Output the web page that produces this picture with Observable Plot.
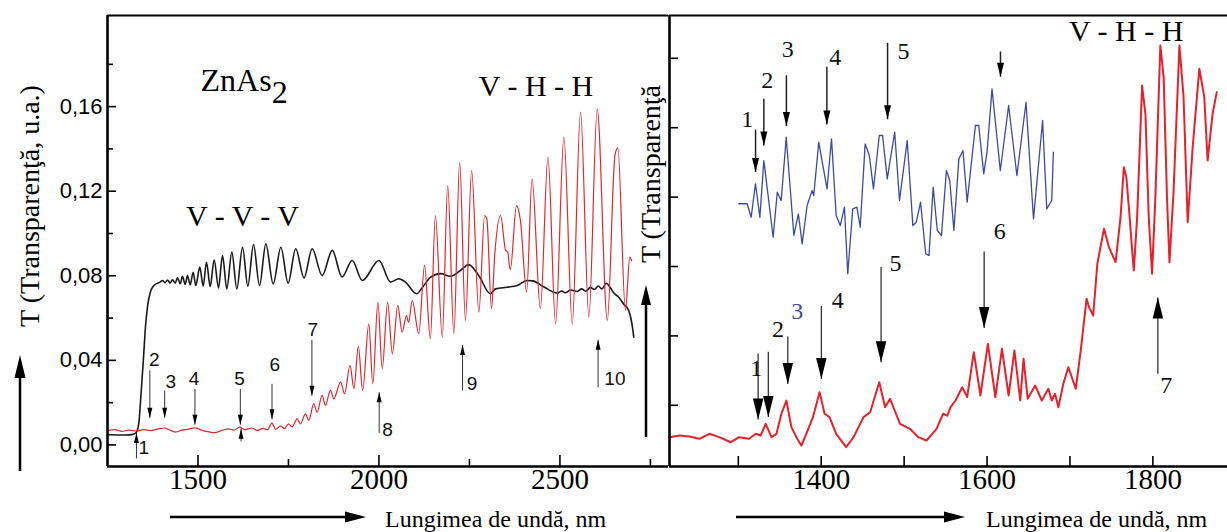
<!DOCTYPE html>
<html><head><meta charset="utf-8">
<script src="https://cdn.jsdelivr.net/npm/d3@7"></script>
<script src="https://cdn.jsdelivr.net/npm/@observablehq/plot@0.6"></script>
<style>
html,body{margin:0;padding:0;background:#fff;}
#wrap{position:relative;width:1227px;height:532px;overflow:hidden;background:#fff;}
</style></head><body><div id="wrap"></div>
<script>
// ---------- LEFT PANEL DATA (nm, T u.a.) ----------
const blackNm = [1250,1300,1320,1330,1337,1343,1349,1355,1361,1368,1377,1388,1395,1402,1409,1416,1423,1429.6,1437,1443.4,1450.8,1457.2,1464.6,1471,1478.4,1486.7,1494,1505,1514.3,1523.5,1533.7,1544.7,1556.7,1567.7,1579.7,1593.5,1607.3,1623,1637.7,1653.4,1670,1687.5,1707.7,1729,1749,1770,1793,1815.5,1843,1871,1898,1926,1954,2000,2032,2055,2073,2104,2120,2142,2170,2197,2225,2248,2276,2308,2322,2354,2382,2409,2425,2455,2492,2505,2515,2530,2548,2560,2572,2584,2595,2606,2616,2628,2640,2649,2662,2676,2690,2699,2704];
const blackT  = [.0048,.0047,.0050,.0060,.0110,.0250,.0400,.0560,.0660,.0720,.0752,.0765,.0770,.0778,.0767,.0780,.0766,.0781,.0765,.0790,.0762,.0797,.0759,.0801,.0757,.0817,.0754,.0841,.0751,.0864,.0749,.0876,.0743,.0896,.0738,.0912,.0738,.0935,.0751,.0948,.0754,.0951,.0762,.0935,.0765,.0928,.0790,.0928,.0801,.0920,.0794,.0872,.0778,.0872,.0770,.0786,.0770,.0715,.0745,.0792,.0810,.0798,.0825,.0853,.0800,.0715,.0738,.0746,.0754,.0778,.0776,.0748,.0718,.0728,.0720,.0733,.0726,.0738,.0727,.0745,.0735,.0752,.0738,.0765,.0742,.0718,.0700,.0667,.0636,.0573,.0510];
const redNm = [1250,1270,1290,1310,1330,1350,1370,1390,1408,1420,1438,1455,1470,1492,1510,1530,1546,1565,1585,1600,1615,1630,1648,1664,1680,1692,1704,1715,1728,1739,1750,1760,1768,1774,1783,1797,1806,1820,1829,1843,1852,1866,1875,1894,1905,1920,1931,1943,1955,1972,1983,1997,2009,2024,2037,2052,2064,2076,2082,2092,2110,2126,2142,2156,2175,2190,2207,2223,2239,2256,2276,2292,2298,2311,2320,2336,2350,2356,2360,2363,2380,2391,2408,2423,2446,2467,2488,2511,2534,2557,2580,2603,2631,2652,2660,2681,2693,2698];
const redT  = [.0068,.0072,.0064,.0070,.0066,.0072,.0068,.0076,.0080,.0072,.0061,.0070,.0074,.0081,.0070,.0062,.0058,.0068,.0076,.0070,.0084,.0072,.0080,.0069,.0078,.0072,.0103,.0074,.0090,.0077,.0100,.0085,.0108,.0124,.0100,.0147,.0116,.0195,.0155,.0234,.0187,.0258,.0218,.0297,.0242,.0376,.0266,.0466,.0258,.0573,.0289,.0675,.0360,.0675,.0431,.0660,.0533,.0612,.0580,.0683,.0526,.0849,.0502,.1085,.0510,.1227,.0526,.1337,.0589,.1298,.0628,.1085,.1070,.0644,.0900,.1085,.0920,.0912,.0850,.0830,.1132,.1060,.0723,.1259,.0644,.1361,.0573,.1455,.0573,.1574,.0604,.1590,.0589,.1369,.1405,.0636,.0888,.0872];

// ---------- RIGHT PANEL DATA (nm, T arb.) ----------
const redRNm = [1217,1229,1241,1253,1265,1277,1291,1301,1313,1321,1327,1333,1340,1346,1352,1358,1364,1370,1376,1382,1390,1398,1404,1410,1418,1430,1439,1451,1459,1470,1477,1483,1495,1507,1517,1527,1539,1547,1552,1556,1562,1570,1576,1584,1592,1601,1610,1618,1626,1633,1640,1644,1649,1658,1666,1674,1678,1682,1686,1692,1698,1707,1713,1720,1723,1728,1733,1741,1747,1755,1761,1765,1768,1772,1775,1777,1781,1787,1791,1795,1799,1803,1809,1813,1817,1820,1825,1832,1837,1842,1848,1856,1862,1866,1872,1877];
const redRT  = [.541,.565,.55,.517,.589,.541,.468,.541,.517,.589,.565,.733,.541,.589,.878,1.069,.685,.541,.42,.589,.829,1.189,.878,.829,.589,.396,.541,.829,.9,1.333,.973,1.094,.733,.661,.541,.493,.661,.878,.85,.973,1.069,1.261,1.117,1.765,1.141,1.886,1.117,1.814,1.141,1.79,1.069,1.67,1.094,1.285,1.069,1.238,1.069,1.166,.973,1.31,1.549,1.238,1.79,2.535,2.414,2.294,3.039,3.543,3.278,3.062,3.71,4.431,4.287,3.71,3.23,2.942,3.71,5.608,5.2,3.71,2.895,3.999,6.184,5.728,3.999,3.062,4.095,6.184,5.44,3.638,4.719,5.849,5.44,4.527,5.2,5.51];
const blueNm = [1300.6,1310.7,1315.5,1320.7,1326,1330.8,1342,1347,1351.7,1357.8,1367,1372.4,1377,1383,1389,1391,1397,1407,1412.4,1418,1423,1428,1432,1438,1443,1447,1453,1458,1463,1470,1474,1479.6,1488.6,1494.4,1503.7,1510.5,1514.6,1519.8,1526,1530,1535,1540,1545,1551,1555,1560,1566,1571,1576,1586,1590,1596,1600,1606,1616,1626,1636,1647,1656,1667,1672,1678,1680];
const blueT  = [3.904,3.904,3.71,4.192,3.71,4.527,3.422,4.071,3.951,4.863,3.447,3.759,3.327,3.879,4.095,4.023,4.791,4.119,4.84,3.735,3.59,3.855,2.895,3.831,3.855,3.566,4.767,4.599,4.119,4.888,4.888,4.263,4.935,3.951,4.815,3.59,3.638,3.927,3.183,3.158,4.143,3.519,3.447,4.383,4.239,3.519,4.551,4.671,3.927,5.032,5.032,4.335,4.647,5.56,4.383,5.32,4.311,5.367,3.687,5.104,3.831,3.951,4.647];

// ---------- TICKS ----------
const leftXMajor = [1500, 2000, 2500];
const leftXMinor = [1750, 2250, 2750];
const leftYMajor = [0, 0.04, 0.08, 0.12, 0.16];
const leftYMinor = [0.02, 0.06, 0.10, 0.14, 0.18];
const rightXTicks = [1300, 1400, 1500, 1600, 1700, 1800];
const rightXLabels = [1400, 1600, 1800];
const rightYTicks = [1, 2, 3, 4, 5, 6];

// ---------- ANNOTATIONS [label, x, from, to, labelX, labelY] ----------
const leftArrows = [
  ["1", 1330, -0.0064, 0.0056, 1350, -0.0016],
  ["2", 1367, 0.0353, 0.0128, 1379, 0.0401],
  ["3", 1408, 0.0257, 0.0128, 1425, 0.0297],
  ["4", 1491.6, 0.0265, 0.0096, 1489, 0.0313],
  ["5", 1617, 0.0265, 0.0096, 1614.7, 0.0313],
  ["", 1619, 0.0017, 0.0077, 0, 0],
  ["6", 1704.5, 0.0289, 0.0121, 1712.5, 0.0377],
  ["7", 1814.8, 0.0497, 0.0233, 1817, 0.0546],
  ["8", 2000.7, 0.0056, 0.0249, 2024, 0.0072],
  ["9", 2231, 0.0257, 0.0473, 2257, 0.0289],
  ["10", 2605.5, 0.0273, 0.0497, 2652, 0.0313]
];
const blueArrows = [
  ["1", 1320.8, 4.974, 4.363, 1310.8, 5.121],
  ["2", 1330.8, 5.416, 4.744, 1334.8, 5.68],
  ["3", 1358, 5.756, 5.025, 1359.7, 6.124],
  ["4", 1406.8, 5.879, 5.048, 1416.9, 6.012],
  ["5", 1480, 6.222, 5.121, 1499.2, 6.099],
  ["", 1616.2, 6.099, 5.733, 0, 0]
];
const redArrows = [
  ["1", 1323.9, 1.748, 0.795, 1321.7, 1.527, "#111"],
  ["2", 1336.2, 1.772, 0.83, 1347.9, 2.089, "#111"],
  ["3", 1359.7, 1.993, 1.308, 1371, 2.359, "#3b4aa0"],
  ["4", 1400.2, 2.432, 1.38, 1419.9, 2.506, "#111"],
  ["5", 1472.2, 2.994, 1.62, 1489.7, 3.043, "#111"],
  ["6", 1596.5, 3.215, 2.114, 1615.3, 3.509, "#111"],
  ["7", 1806, 1.454, 2.555, 1816, 1.284, "#111"]
];

// ---------- helpers ----------
const serif = "'Liberation Serif','Times New Roman',serif";
const sans = "'Liberation Sans',Arial,sans-serif";
const headDown = {draw(ctx, size) { const r = Math.sqrt(size / Math.PI); const L = 2 * r, w = 0.5 * r; ctx.moveTo(0, 0); ctx.lineTo(-w, -L); ctx.lineTo(w, -L); ctx.closePath(); }};
const headUp = {draw(ctx, size) { const r = Math.sqrt(size / Math.PI); const L = 2 * r, w = 0.5 * r; ctx.moveTo(0, 0); ctx.lineTo(-w, L); ctx.lineTo(w, L); ctx.closePath(); }};
const zip = (xs, ys) => xs.map((x, i) => ({x, y: ys[i]}));
function arrowMarks(arr, o) {
  const d = arr.map(([label, x, from, to, lx, ly, color]) => ({label, x, from, to, lx, ly, color: color || "#111", up: to > from}));
  return [
    Plot.link(d, {x1: "x", x2: "x", y1: "from", y2: "to", stroke: o.line, strokeWidth: o.lw}),
    Plot.dot(d.filter(e => !e.up), {x: "x", y: "to", symbol: headDown, r: o.r, fill: "#000", stroke: "none"}),
    Plot.dot(d.filter(e => e.up), {x: "x", y: "to", symbol: headUp, r: o.r, fill: "#000", stroke: "none"}),
    Plot.text(d.filter(e => e.label), {x: "lx", y: "ly", text: "label", fill: "color", fontSize: o.fs, fontFamily: o.ff})
  ];
}
const fmt = d => d.toFixed(2).replace(".", ",");

const H = 532, MT = 15, MB = 66;
const wrap = document.getElementById("wrap");

// ---------- LEFT PLOT ----------
const LX = [1250, 2800], LY = [-0.0102, 0.2031];
const left = Plot.plot({
  width: 669, height: H, marginLeft: 107, marginRight: 1, marginTop: MT, marginBottom: MB,
  x: {domain: LX, axis: null}, y: {domain: LY, axis: null},
  style: {fontFamily: serif, background: "transparent", overflow: "visible"},
  marks: [
    Plot.line(zip(blackNm, blackT), {x: "x", y: "y", stroke: "#1a1a1a", strokeWidth: 1.6, curve: "monotone-x"}),
    Plot.line(zip(redNm, redT), {x: "x", y: "y", stroke: "#e3262d", strokeWidth: 1.2, curve: "monotone-x"}),
    ...arrowMarks(leftArrows, {line: "#333", lw: 1, r: 5, fs: 19, ff: sans}),
    Plot.text(["ZnAs"], {x: 1507, y: 0.1676, text: d => d, textAnchor: "start", lineAnchor: "bottom", fontSize: 32, fontFamily: serif}),
    Plot.text(["2"], {x: 1704, y: 0.1615, text: d => d, textAnchor: "start", lineAnchor: "bottom", fontSize: 32, fontFamily: serif}),
    Plot.text(["V - V - V"], {x: 1623, y: 0.1034, text: d => d, lineAnchor: "bottom", fontSize: 30, fontFamily: serif}),
    Plot.text(["V - H - H"], {x: 2434, y: 0.1652, text: d => d, lineAnchor: "bottom", fontSize: 30, fontFamily: serif}),
    Plot.ruleX(leftXMajor, {x: d => d, insetTop: 451 - 11, stroke: "#000", strokeWidth: 1.6}),
    Plot.ruleX(leftXMinor, {x: d => d, insetTop: 451 - 7, stroke: "#000", strokeWidth: 1.6}),
    Plot.ruleY(leftYMajor, {y: d => d, insetRight: 561 - 9, stroke: "#000", strokeWidth: 1.6}),
    Plot.ruleY(leftYMinor, {y: d => d, insetRight: 561 - 6, stroke: "#000", strokeWidth: 1.6}),
    Plot.text(leftXMajor, {x: d => d, frameAnchor: "bottom", dy: 22, text: d => String(d), fontSize: 29, fontFamily: serif}),
    Plot.text(leftYMajor, {y: d => d, frameAnchor: "left", dx: -5, textAnchor: "end", text: fmt, fontSize: 22, fontFamily: sans}),
    Plot.ruleX([LX[0]], {stroke: "#000", strokeWidth: 2.6}),
    Plot.ruleY([LY[0]], {stroke: "#000", strokeWidth: 2.6}),
    Plot.ruleY([LY[1]], {stroke: "#000", strokeWidth: 2})
  ]
});
left.style.position = "absolute"; left.style.left = "0px"; left.style.top = "0px";
wrap.appendChild(left);

// ---------- RIGHT PLOT ----------
const RX = [1217, 1890], RY = [0.118, 6.617];
const right = Plot.plot({
  width: 559, height: H, marginLeft: 1, marginRight: 0, marginTop: MT, marginBottom: MB,
  x: {domain: RX, axis: null}, y: {domain: RY, axis: null},
  style: {fontFamily: serif, background: "transparent", overflow: "visible"},
  marks: [
    Plot.line(zip(blueNm, blueT), {x: "x", y: "y", stroke: "#3b4aa0", strokeWidth: 1.3}),
    Plot.line(zip(redRNm, redRT), {x: "x", y: "y", stroke: "#e8202a", strokeWidth: 2}),
    ...arrowMarks(blueArrows, {line: "#222", lw: 1.5, r: 7, fs: 24, ff: serif}),
    ...arrowMarks(redArrows, {line: "#333", lw: 1.3, r: 10.5, fs: 24, ff: serif}),
    Plot.text(["V - H - H"], {x: 1767.7, y: 6.246, text: d => d, lineAnchor: "bottom", fontSize: 30, fontFamily: serif}),
    Plot.ruleX(rightXTicks, {x: d => d, insetTop: 451 - 10, stroke: "#000", strokeWidth: 1.6}),
    Plot.ruleY(rightYTicks, {y: d => d, insetRight: 558 - 9, stroke: "#000", strokeWidth: 1.6}),
    Plot.text(rightXLabels, {x: d => d, frameAnchor: "bottom", dy: 22, text: d => String(d), fontSize: 29, fontFamily: serif}),
    Plot.ruleX([RX[0]], {stroke: "#000", strokeWidth: 2.6}),
    Plot.ruleY([RY[0]], {stroke: "#000", strokeWidth: 2.6}),
    Plot.ruleY([RY[1]], {stroke: "#000", strokeWidth: 2})
  ]
});
right.style.position = "absolute"; right.style.left = "668px"; right.style.top = "0px";
wrap.appendChild(right);

// ---------- axis titles & decorative arrows ----------
const ov = document.createElementNS("http://www.w3.org/2000/svg", "svg");
ov.setAttribute("width", 1227); ov.setAttribute("height", 532);
ov.style.position = "absolute"; ov.style.left = "0px"; ov.style.top = "0px"; ov.style.pointerEvents = "none";
ov.innerHTML = `
<g font-family="${serif.replace(/'/g, "")}" fill="#000">
 <text transform="translate(29,206) rotate(-90)" text-anchor="middle" dominant-baseline="central" font-size="28">T (Transparenţă, u.a.)</text>
 <text transform="translate(650,174) rotate(-90)" text-anchor="middle" dominant-baseline="central" font-size="28">T (Transparenţă</text>
 <text x="385" y="527" font-size="24">Lungimea de undă, nm</text>
 <text x="986" y="527" font-size="24">Lungimea de undă, nm</text>
</g>
<g stroke="#000" stroke-width="2.5">
 <line x1="20" y1="471" x2="20" y2="372"/>
 <line x1="646" y1="437" x2="646" y2="300"/>
 <line x1="170" y1="517" x2="350" y2="517"/>
 <line x1="736" y1="517" x2="948" y2="517"/>
</g>
<g fill="#000">
 <polygon points="20,355 14.5,378 25.5,378"/>
 <polygon points="646,285 641,305 651,305"/>
 <polygon points="366,517 345,511.5 345,522.5"/>
 <polygon points="965,517 944,511.5 944,522.5"/>
</g>`;
wrap.appendChild(ov);
</script></body></html>
